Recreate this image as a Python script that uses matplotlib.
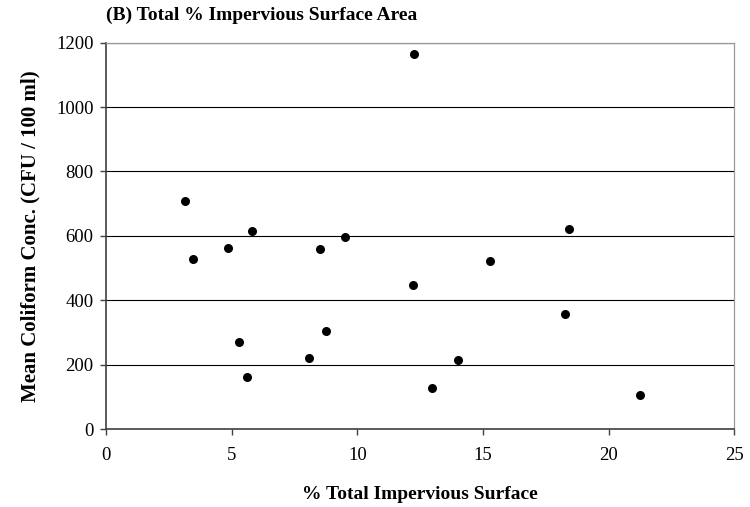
import matplotlib
matplotlib.use("Agg")
import matplotlib.pyplot as plt

# Percent total impervious surface vs mean coliform concentration per site
impervious_pct = [3.16, 3.45, 4.85, 5.82, 8.53, 9.50, 12.27, 18.42, 5.28, 5.61,
                  8.09, 8.75, 12.22, 15.28, 18.25, 14.02, 12.97, 21.24]
coliform_conc = [707, 527, 561, 616, 560, 596, 1166, 620, 269, 161,
                 220, 305, 448, 523, 357, 214, 128, 105]

x_ticks = [0, 5, 10, 15, 20, 25]
y_ticks = [0, 200, 400, 600, 800, 1000, 1200]

plt.rcParams["font.family"] = ["Liberation Serif", "DejaVu Serif"]

fig = plt.figure(figsize=(7.5, 5.07), dpi=100)
ax = fig.add_axes([0.1413, 0.1538, 0.8377, 0.762])

ax.scatter(impervious_pct, coliform_conc, s=30, color="black", zorder=3)

ax.set_xlim(0, 25)
ax.set_ylim(0, 1200)
ax.set_xticks(x_ticks)
ax.set_yticks(y_ticks)
ax.yaxis.grid(True, color="black", linewidth=0.8)
ax.set_axisbelow(True)

for side in ("left", "bottom"):
    ax.spines[side].set_color("#404040")
    ax.spines[side].set_linewidth(1.2)
for side in ("top", "right"):
    ax.spines[side].set_color("#999999")
    ax.spines[side].set_linewidth(0.9)

ax.tick_params(axis="both", direction="out", length=4, width=1, color="#404040",
               labelsize=13.5, pad=5)
ax.tick_params(axis="x", pad=9)

ax.set_xlabel("% Total Impervious Surface", fontsize=14, fontweight="bold", labelpad=16)
ax.set_ylabel("Mean Coliform Conc. (CFU / 100 ml)", fontsize=15, fontweight="bold", labelpad=11)
fig.text(0.1413, 0.970, "(B) Total % Impervious Surface Area", fontsize=14,
         fontweight="bold", va="center", ha="left")

fig.savefig("out.png", dpi=100)
